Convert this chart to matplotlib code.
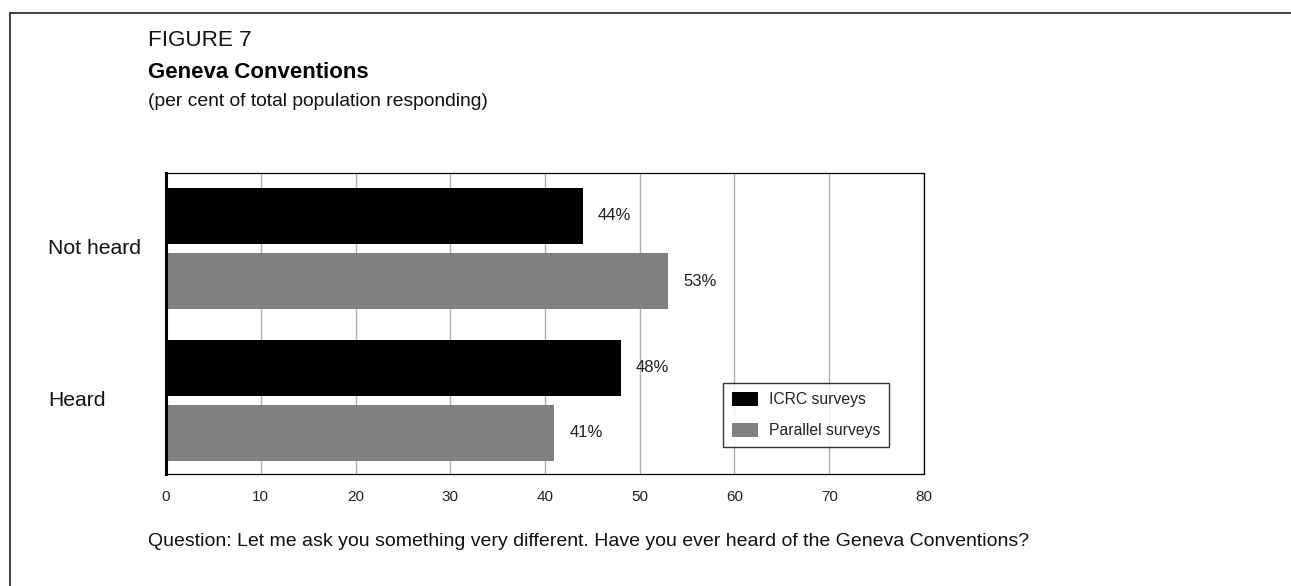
import matplotlib
matplotlib.use("Agg")
import matplotlib.pyplot as plt
import numpy as np
from matplotlib.lines import Line2D
from matplotlib.patches import Patch

plt.rcParams["font.family"] = ["Liberation Sans", "DejaVu Sans"]

# -----------------------------
# Data
# -----------------------------
categories = ["Not heard", "Heard"]
icrc_values = [44, 48]
parallel_values = [53, 41]
series_names = ["ICRC surveys", "Parallel surveys"]
x_ticks = [0, 10, 20, 30, 40, 50, 60, 70, 80]

title_small = "FIGURE 7"
title_main = "Geneva Conventions"
subtitle = "(per cent of total population responding)"
footnote = "Question: Let me ask you something very different. Have you ever heard of the Geneva Conventions?"

# -----------------------------
# Figure
# -----------------------------
fig = plt.figure(figsize=(12.91, 5.86), dpi=100)
ax = fig.add_axes([0.1286, 0.1911, 0.5871, 0.5137])

group_pos = np.array([1.0, 0.0])
offset = 0.214
bar_h = 0.368

ax.barh(group_pos + offset, icrc_values, height=bar_h, color="black", zorder=3)
ax.barh(group_pos - offset, parallel_values, height=bar_h, color="#808080", zorder=3)

# value labels
for y, v in zip(group_pos + offset, icrc_values):
    ax.text(v + 1.6, y, f"{v}%", va="center", ha="left", fontsize=12, color="#222222", zorder=4)
for y, v in zip(group_pos - offset, parallel_values):
    ax.text(v + 1.6, y, f"{v}%", va="center", ha="left", fontsize=12, color="#222222", zorder=4)

ax.set_xlim(0, 80)
ax.set_ylim(-0.484, 1.497)
ax.set_xticks(x_ticks)
ax.set_xticklabels([str(t) for t in x_ticks], fontsize=11, color="#222222")
ax.tick_params(axis="x", length=0, pad=11.5)
ax.set_yticks([])
ax.grid(axis="x", color="#b0b0b0", linewidth=1, zorder=0)

for side in ["top", "right", "bottom"]:
    ax.spines[side].set_linewidth(0.9)
    ax.spines[side].set_color("black")
ax.spines["left"].set_linewidth(2.2)
ax.spines["left"].set_zorder(5)

# category labels, left aligned at the page margin
trans = matplotlib.transforms.blended_transform_factory(fig.transFigure, ax.transData)
for y, name in zip(group_pos, categories):
    ax.text(48 / 1291, y, name, transform=trans, ha="left", va="center", fontsize=15.2, color="#111111")

# legend
handles = [Patch(facecolor="black", edgecolor="none"), Patch(facecolor="#808080", edgecolor="none")]
leg = ax.legend(handles, series_names, loc="lower left", bbox_to_anchor=(0.735, 0.09),
                fontsize=11.3, frameon=True, fancybox=False, edgecolor="black",
                handlelength=1.65, handleheight=1.02, labelspacing=1.0,
                borderpad=0.55, handletextpad=0.7, borderaxespad=0)
leg.get_frame().set_linewidth(1.0)
for t in leg.get_texts():
    t.set_color("#222222")

# titles and footnote
fig.text(148 / 1291, 1 - 40 / 586, title_small, fontsize=16.2, ha="left", va="center", color="#111111")
fig.text(148 / 1291, 1 - 72 / 586, title_main, fontsize=16, fontweight="bold", ha="left", va="center", color="black")
fig.text(148 / 1291, 1 - 101 / 586, subtitle, fontsize=13.9, ha="left", va="center", color="#111111")
fig.text(148 / 1291, 1 - 541 / 586, footnote, fontsize=14, ha="left", va="center", color="#111111")

# page border (left and top)
fig.add_artist(Line2D([10 / 1291, 10 / 1291], [0, 1 - 13 / 586], transform=fig.transFigure,
                      color="#333333", linewidth=1.3))
fig.add_artist(Line2D([10 / 1291, 1], [1 - 13 / 586, 1 - 13 / 586], transform=fig.transFigure,
                      color="#333333", linewidth=1.3))

fig.savefig("out.png", dpi=100)
